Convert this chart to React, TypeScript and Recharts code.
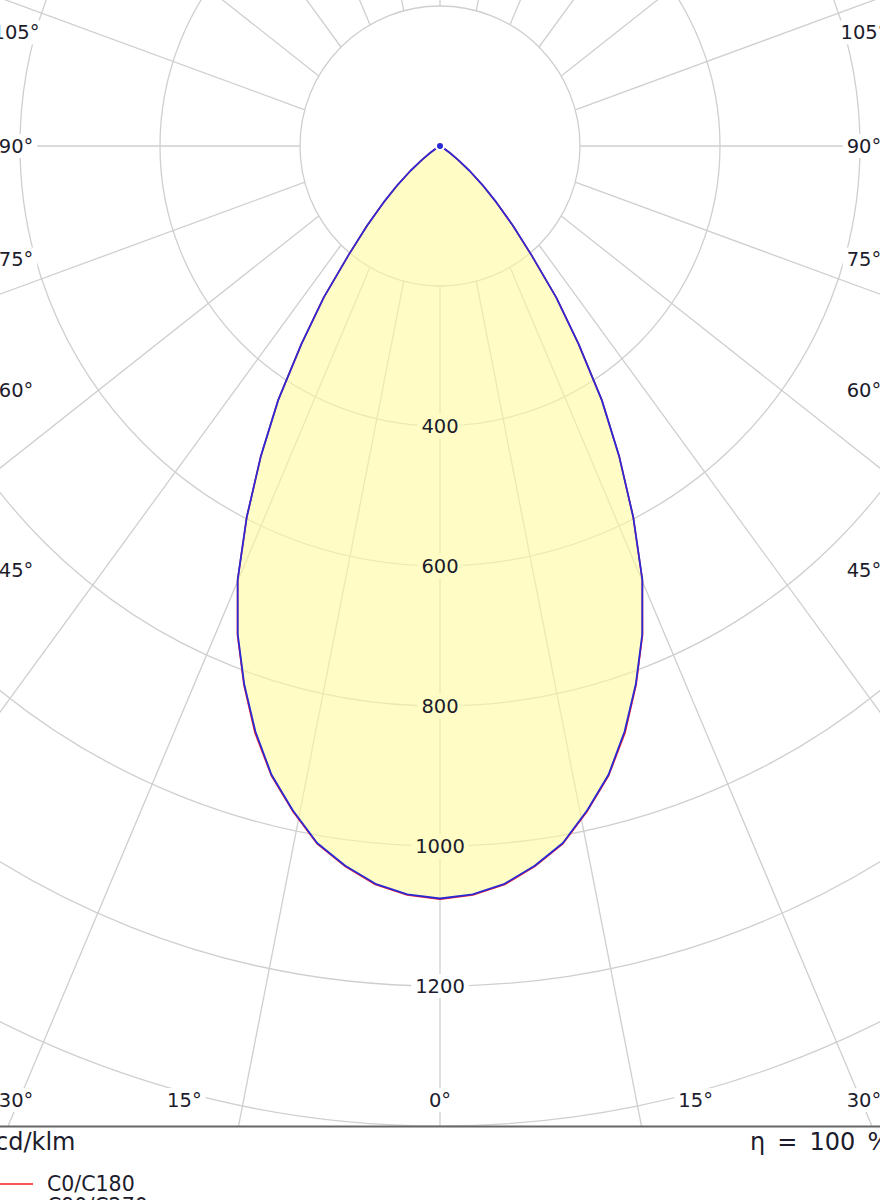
import {
  Customized,
  Legend,
  PolarAngleAxis,
  PolarGrid,
  PolarRadiusAxis,
  Radar,
  RadarChart,
} from "recharts";

// gamma angle (deg from nadir) and intensities in cd/klm
const GAMMA = [
  0, 2.5, 5, 7.5, 10, 12.5, 15, 17.5, 20, 22.5, 25, 27.5, 30, 32.5, 35, 37.5,
  40, 42.5, 45, 47.5, 50, 52.5, 55, 57.5, 60, 62.5, 65, 67.5, 70, 72.5, 75,
  77.5, 80, 82.5, 85, 87.5, 90,
];
const C0_C180 = [
  1076, 1071, 1059, 1038, 1012, 973, 931, 879, 819, 756, 684, 598, 512, 430,
  345, 273, 203, 154, 114, 82, 55, 33, 18, 8, 2, 0, 0, 0, 0, 0, 0, 0, 0, 0, 0,
  0, 0,
];
const C90_C270 = [
  1075, 1070, 1058, 1037, 1011, 972, 930, 877, 818, 755, 684, 598, 512, 430,
  345, 273, 203, 154, 114, 82, 55, 33, 18, 8, 2, 0, 0, 0, 0, 0, 0, 0, 0, 0, 0,
  0, 0,
];

const RING_TICKS = [0, 200, 400, 600, 800, 1000, 1200, 1400];
const RING_LABELS = [400, 600, 800, 1000, 1200];
const SPOKE_ANGLES = [
  0, 15, 30, 45, 60, 75, 90, 105, 120, 135, 150, 165, 180, 195, 210, 225, 240,
  255, 270, 285, 300, 315, 330, 345,
];
const ANGLE_LABELS = [0, 15, 30, 45, 60, 75, 90, 105];

const WIDTH = 880;
const PLOT_HEIGHT = 1127;
const CX = 440;
const CY = 146;
const MAX_CD = 1400;
const OUTER_R = 980;
const PX_PER_CD = OUTER_R / MAX_CD;
const SPOKE_START = 200 * PX_PER_CD;
const SPOKE_STRETCH = 1.37;
const LABEL_INSET = 424;
const LABEL_BOTTOM = 1100;

const FONT = '"DejaVu Sans", Verdana, sans-serif';
const TEXT = "#1c1c2c";
const GRID = "#cfcfcf";
const FILL = "#fffa9e";
const FILL_OPACITY = 0.6;
const FILL_ON_WHITE = "#fffcc5";
const LABEL_FS = 19.5;

// full 360° sweep, clockwise from nadir; both half planes are symmetric
const STEP = GAMMA[1] - GAMMA[0];
const data = Array.from({ length: Math.round(360 / STEP) }, (_, i) => {
  const sweep = i * STEP;
  const gamma = sweep <= 180 ? sweep : 360 - sweep;
  const k = GAMMA.indexOf(gamma);
  return {
    angle: sweep,
    c0: k >= 0 ? C0_C180[k] : 0,
    c90: k >= 0 ? C90_C270[k] : 0,
  };
});

function textWidth(s: string, fs: number) {
  let w = 0;
  for (const ch of s) w += ch === "°" ? 0.5 : 0.636;
  return w * fs;
}

function RingTick(props: any) {
  const { x, y, payload } = props;
  const v = payload?.value;
  if (!RING_LABELS.includes(v)) return <g />;
  const inside = v < C90_C270[0];
  const w = textWidth(String(v), LABEL_FS) + 8;
  return (
    <g>
      <rect
        x={x - w / 2}
        y={y - 12}
        width={w}
        height={24}
        fill={inside ? FILL_ON_WHITE : "#ffffff"}
      />
      <text
        x={x}
        y={y}
        textAnchor="middle"
        dominantBaseline="central"
        fontFamily={FONT}
        fontSize={LABEL_FS}
        fill={TEXT}
      >
        {v}
      </text>
    </g>
  );
}

function Spokes() {
  return (
    <g>
      {SPOKE_ANGLES.map((deg) => {
        const t = (deg * Math.PI) / 180;
        const s = Math.sin(t);
        const c = Math.cos(t);
        const x0 = CX + SPOKE_START * s;
        const y0 = CY + SPOKE_START * c;
        const n = Math.hypot(s, SPOKE_STRETCH * c);
        const len = 3000;
        return (
          <line
            key={deg}
            x1={x0}
            y1={y0}
            x2={x0 + (len * s) / n}
            y2={y0 + (len * SPOKE_STRETCH * c) / n}
            stroke={GRID}
            strokeWidth={1.3}
          />
        );
      })}
    </g>
  );
}

function AngleLabels() {
  const items: any[] = [];
  for (const deg of ANGLE_LABELS) {
    for (const side of deg === 0 ? [1] : [-1, 1]) {
      const t = (deg * Math.PI) / 180;
      let x: number;
      let y: number;
      if (deg < 45) {
        y = LABEL_BOTTOM;
        x = CX + side * Math.min((LABEL_BOTTOM - CY) * Math.tan(t), LABEL_INSET);
      } else {
        x = CX + side * LABEL_INSET;
        y = CY + LABEL_INSET / Math.tan(t);
      }
      const label = `${deg}°`;
      const w = textWidth(label, LABEL_FS) + 8;
      items.push(
        <g key={`${deg}-${side}`}>
          <rect x={x - w / 2} y={y - 12} width={w} height={24} fill="#ffffff" />
          <text
            x={x}
            y={y}
            textAnchor="middle"
            dominantBaseline="central"
            fontFamily={FONT}
            fontSize={LABEL_FS}
            fill={TEXT}
          >
            {label}
          </text>
        </g>
      );
    }
  }
  return <g>{items}</g>;
}

function LegendList(props: any) {
  const payload = props.payload ?? [];
  return (
    <div style={{ fontFamily: FONT, fontSize: 20.5, color: TEXT }}>
      {payload.map((entry: any) => (
        <div
          key={entry.value}
          style={{ display: "flex", alignItems: "center", height: 22.3 }}
        >
          <svg width={45} height={6} style={{ display: "block" }}>
            <line x1={0} y1={3} x2={45} y2={3} stroke={entry.color} strokeWidth={1.6} />
          </svg>
          <span style={{ marginLeft: 14, lineHeight: "22px" }}>{entry.value}</span>
        </div>
      ))}
    </div>
  );
}

export default function App() {
  return (
    <div
      style={{
        position: "absolute",
        left: 0,
        top: 0,
        width: WIDTH,
        height: 1200,
        overflow: "hidden",
        background: "#ffffff",
      }}
    >
      <RadarChart
        width={WIDTH}
        height={PLOT_HEIGHT}
        data={data}
        cx={CX}
        cy={CY}
        outerRadius={OUTER_R}
        startAngle={-90}
        endAngle={-450}
        margin={{ top: 0, right: 0, bottom: 0, left: 0 }}
      >
        <PolarGrid gridType="circle" radialLines={false} stroke={GRID} strokeWidth={1.3} />
        <PolarAngleAxis dataKey="angle" tick={false} axisLine={false} tickLine={false} />
        <Customized component={<Spokes />} />
        <Radar
          name="C0/C180"
          dataKey="c0"
          stroke="#ff1a1a"
          strokeWidth={1.6}
          strokeLinejoin="round"
          fill={FILL}
          fillOpacity={FILL_OPACITY}
          dot={false}
          legendType="plainline"
          isAnimationActive={false}
        />
        <Radar
          name="C90/C270"
          dataKey="c90"
          stroke="#2a2ad6"
          strokeWidth={1.8}
          strokeLinejoin="round"
          fill="none"
          fillOpacity={0}
          dot={false}
          legendType="plainline"
          isAnimationActive={false}
        />
        <PolarRadiusAxis
          angle={-90}
          domain={[0, MAX_CD]}
          ticks={RING_TICKS as any}
          tickCount={RING_TICKS.length}
          axisLine={false}
          tick={RingTick}
        />
        <Customized component={<AngleLabels />} />
        <Legend
          verticalAlign="bottom"
          content={LegendList}
          wrapperStyle={{ left: -12, top: 1173, bottom: "auto", width: 300 }}
        />
      </RadarChart>
      <svg
        width={WIDTH}
        height={1200 - PLOT_HEIGHT + 2}
        style={{ position: "absolute", left: 0, top: PLOT_HEIGHT - 2 }}
      >
        <line x1={0} y1={1.5} x2={WIDTH} y2={1.5} stroke="#666666" strokeWidth={2.2} />
        <text x={-5} y={25} fontFamily={FONT} fontSize={24} fill={TEXT}>
          cd/klm
        </text>
        <text
          x={750}
          y={25}
          fontFamily={FONT}
          fontSize={24}
          wordSpacing={4.5}
          fill={TEXT}
        >
          η = 100 %
        </text>
      </svg>
    </div>
  );
}
